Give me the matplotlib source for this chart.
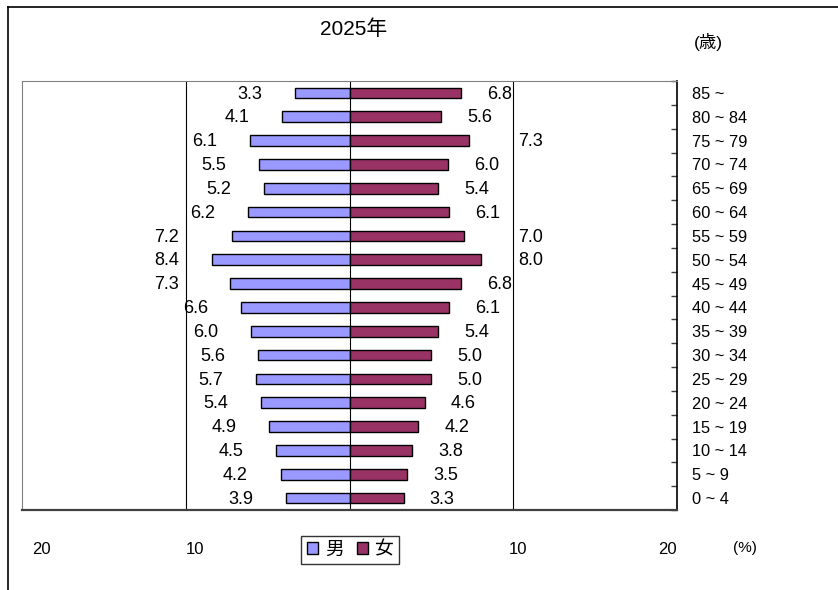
import matplotlib
matplotlib.use("Agg")
import matplotlib.pyplot as plt
import matplotlib.transforms as mtransforms
from matplotlib.patches import Patch
from matplotlib.lines import Line2D
import numpy as np

plt.rcParams['font.family'] = ['Liberation Sans', 'Noto Sans CJK JP', 'DejaVu Sans']

# データ (上から 85~ ... 0~4)
age_groups = ["85 ~", "80 ~ 84", "75 ~ 79", "70 ~ 74", "65 ~ 69", "60 ~ 64",
              "55 ~ 59", "50 ~ 54", "45 ~ 49", "40 ~ 44", "35 ~ 39", "30 ~ 34",
              "25 ~ 29", "20 ~ 24", "15 ~ 19", "10 ~ 14", "5 ~ 9", "0 ~ 4"]
male = [3.3, 4.1, 6.1, 5.5, 5.2, 6.2, 7.2, 8.4, 7.3, 6.6,
        6.0, 5.6, 5.7, 5.4, 4.9, 4.5, 4.2, 3.9]
female = [6.8, 5.6, 7.3, 6.0, 5.4, 6.1, 7.0, 8.0, 6.8, 6.1,
          5.4, 5.0, 5.0, 4.6, 4.2, 3.8, 3.5, 3.3]
xtick_vals = [-20, -10, 10, 20]
xtick_text = ["20", "10", "10", "20"]

COR_M = "#9999FF"
COR_F = "#993366"

W, H = 838, 590
fig = plt.figure(figsize=(W / 100, H / 100), dpi=100)
ax = fig.add_axes([22 / W, 1 - 510 / H, (677 - 22) / W, (510 - 81) / H])

y = np.arange(len(age_groups))
m = np.array(male)
f = np.array(female)

# グリッド線と中心線
for gx in (-10, 0, 10):
    ax.axvline(gx, color="black", lw=0.8, zorder=1)

ax.barh(y, -m, height=0.45, color=COR_M, edgecolor="black", lw=1.0, zorder=2)
ax.barh(y, f, height=0.45, color=COR_F, edgecolor="black", lw=1.0, zorder=2)

ax.set_xlim(-20, 20)
ax.set_ylim(len(age_groups) - 0.5, -0.5)

# 数値ラベル
for i, v in enumerate(male):
    r = v + 2.0
    if r + 1.5 > 10.2:
        r = max(r, 10.4)
    ax.text(-r, i + 0.05, f"{v:.1f}", ha="right", va="center", fontsize=13)
for i, v in enumerate(female):
    l = v + 1.6
    if l + 1.5 > 10.0:
        l = max(l, 10.3)
    ax.text(l, i + 0.05, f"{v:.1f}", ha="left", va="center", fontsize=13)

# 右側の年齢軸
ax.yaxis.tick_right()
ax.set_yticks(y)
ax.set_yticklabels(age_groups, fontsize=11.8)
ax.tick_params(axis="y", which="major", length=0, pad=11)
ax.set_yticks(np.arange(len(age_groups) + 1) - 0.5, minor=True)
ax.tick_params(axis="y", which="minor", direction="in", length=4, width=1, color="#404040")

# x 軸
ax.set_xticks(xtick_vals)
ax.set_xticklabels(xtick_text, fontsize=12)
ax.tick_params(axis="x", length=0, pad=23)
labs = ax.get_xticklabels()
labs[0].set_ha("left")
labs[0].set_transform(labs[0].get_transform() + mtransforms.ScaledTranslation(0.10, 0, fig.dpi_scale_trans))
labs[1].set_ha("left")
labs[2].set_ha("center")
labs[2].set_transform(labs[2].get_transform() + mtransforms.ScaledTranslation(0.05, 0, fig.dpi_scale_trans))
labs[3].set_ha("right")

ax.spines["left"].set_color("#808080")
ax.spines["top"].set_color("#808080")
ax.spines["bottom"].set_color("#404040")
ax.spines["bottom"].set_linewidth(1.6)
ax.spines["right"].set_color("black")
ax.spines["right"].set_linewidth(1.2)

# タイトルと単位
fig.text(354 / W, 1 - 29 / H, "2025年", ha="center", va="center", fontsize=15)
fig.text(708 / W, 1 - 42 / H, "(歳)", ha="center", va="center", fontsize=12.5)
fig.text(745 / W, 1 - 548 / H, "(%)", ha="center", va="center", fontsize=11)

# 凡例
handles = [Patch(facecolor=COR_M, edgecolor="black", lw=1.0),
           Patch(facecolor=COR_F, edgecolor="black", lw=1.0)]
leg = fig.legend(handles, ["男", "女"], loc="center", bbox_to_anchor=(350 / W, 1 - 550 / H),
                 ncol=2, fontsize=13.5, frameon=True, fancybox=False, edgecolor="black",
                 handlelength=0.6, handleheight=0.6, handletextpad=0.35, columnspacing=0.7,
                 borderpad=0.3, borderaxespad=0)
leg.get_frame().set_linewidth(1.0)

# 外枠
fig.add_artist(Line2D([8 / W, 8 / W], [0, 1 - 7 / H], color="black", lw=1.2))
fig.add_artist(Line2D([8 / W, 1], [1 - 7 / H, 1 - 7 / H], color="black", lw=1.2))

fig.savefig("out.png", dpi=100)
